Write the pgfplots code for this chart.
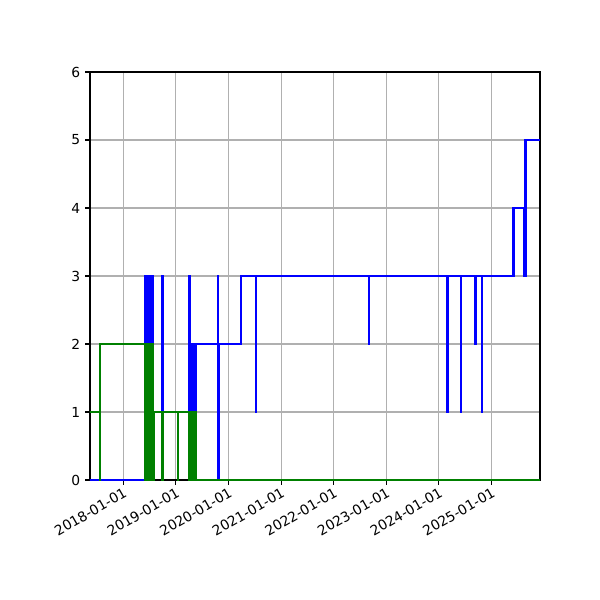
\documentclass[border=0pt]{standalone}
\usepackage{fontspec}
\setmainfont{DejaVu Sans}
\usepackage{pgfplots}
\pgfplotsset{compat=1.18}
\definecolor{mplgrid}{RGB}{176,176,176}
\definecolor{mplgreen}{RGB}{0,128,0}
\begin{document}
\begin{tikzpicture}
\useasboundingbox (-0.9in,-1.2in) rectangle (5.1in,4.8in);
\begin{axis}[
  at={(0,0)}, anchor=south west,
  scale only axis, width=4.5in, height=4.08in,
  xmin=2017.367, xmax=2025.922, ymin=0, ymax=6,
  xtick={2018,2019,2020,2021,2022,2023,2024,2025},
  xticklabels={2018-01-01,2019-01-01,2020-01-01,2021-01-01,2022-01-01,2023-01-01,2024-01-01,2025-01-01},
  ytick={0,1,2,3,4,5,6},
  tick pos=left,
  grid=major,
  major grid style={color=mplgrid, line width=0.8pt},
  tick align=outside, major tick length=3.5pt,
  tick style={black, line width=0.8pt},
  axis line style={line width=0.8pt},
  x tick label style={rotate=30, anchor=north east, inner sep=1pt},
  /pgf/number format/assume math mode=true,
  const plot,
]
\addplot[blue, line width=1.5pt] coordinates {
(2017.30,0)
(2018.418,3) (2018.428,0) (2018.438,3) (2018.448,0) (2018.458,3) (2018.468,0)
(2018.478,3) (2018.488,0) (2018.498,3) (2018.508,0) (2018.518,3) (2018.528,0)
(2018.538,3) (2018.548,0) (2018.558,3) (2018.566,0) (2018.572,1)
(2018.738,3) (2018.745,1)
(2019.255,3) (2019.265,0) (2019.275,2) (2019.285,0) (2019.295,2) (2019.305,0)
(2019.315,2) (2019.325,0) (2019.335,2) (2019.345,0) (2019.355,2) (2019.365,0)
(2019.374,2)
(2019.800,3) (2019.805,0) (2019.810,2)
(2020.238,3)
(2020.515,1) (2020.520,3)
(2022.669,2) (2022.674,3)
(2024.161,1) (2024.166,3)
(2024.418,1) (2024.423,3)
(2024.694,2) (2024.699,3)
(2024.817,1) (2024.822,3)
(2025.418,4)
(2025.625,3) (2025.632,5) (2025.640,3) (2025.648,5)
(2025.95,5)
};
\addplot[mplgreen, line width=1.5pt] coordinates {
(2017.30,1)
(2017.552,0) (2017.562,2)
(2018.418,0) (2018.426,2) (2018.436,0) (2018.446,2) (2018.456,0) (2018.466,2)
(2018.476,0) (2018.486,2) (2018.496,0) (2018.506,2) (2018.516,0) (2018.526,2)
(2018.536,0) (2018.546,2) (2018.556,0) (2018.566,2) (2018.572,0) (2018.578,1)
(2018.738,0) (2018.745,1)
(2019.035,0) (2019.042,1)
(2019.255,0) (2019.263,1) (2019.273,0) (2019.283,1) (2019.293,0) (2019.303,1)
(2019.313,0) (2019.323,1) (2019.333,0) (2019.343,1) (2019.353,0) (2019.363,1)
(2019.372,0)
(2025.95,0)
};
\end{axis}
\end{tikzpicture}
\end{document}
